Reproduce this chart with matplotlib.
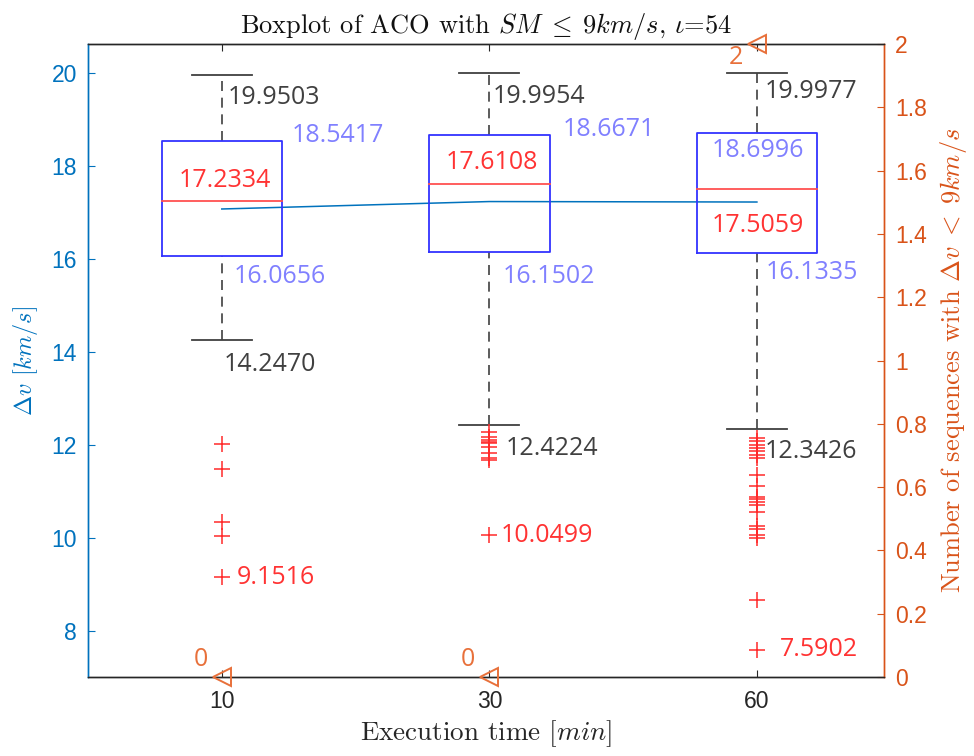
import matplotlib
matplotlib.use("Agg")
import matplotlib.pyplot as plt
import numpy as np

plt.rcParams['mathtext.fontset'] = 'cm'

# ---------------- data ----------------
exec_times = ["10", "30", "60"]
q1 = [16.0656, 16.1502, 16.1335]
medians = [17.2334, 17.6108, 17.5059]
q3 = [18.5417, 18.6671, 18.6996]
whisk_hi = [19.9503, 19.9954, 19.9977]
whisk_lo = [14.2470, 12.4224, 12.3426]
means = [17.07, 17.23, 17.22]
outliers_10 = [12.02, 11.48, 10.34, 10.04, 9.1516]
outliers_30 = [12.28, 12.17, 12.11, 12.06, 12.04, 11.94, 11.83, 11.72, 11.66, 10.0499]
outliers_60 = [12.15, 12.07, 12.00, 11.93, 11.86, 11.78, 11.71, 11.35, 11.10, 10.88,
               10.82, 10.76, 10.71, 10.55, 10.24, 10.19, 10.06, 9.99, 8.65, 7.5902]
min_outlier = [9.1516, 10.0499, 7.5902]
counts = [0, 0, 2]
right_ticks = [0, 0.2, 0.4, 0.6, 0.8, 1, 1.2, 1.4, 1.6, 1.8, 2]
right_ticklabels = ["0", "0.2", "0.4", "0.6", "0.8", "1", "1.2", "1.4", "1.6", "1.8", "2"]
left_ticks = [8, 10, 12, 14, 16, 18, 20]

# ---------------- style ----------------
BLUE_AX = '#0072bd'
ORANGE = '#d95319'
GRAY = '#404040'
LAV = '#8080ff'
RED = '#ff3333'
TXT_FONT = 'Open Sans'
TXT_SIZE = 18
TICK_SIZE = 16.5

fig = plt.figure(figsize=(9.74, 7.56), dpi=100)
ax = fig.add_axes([88/974, 1-677/756, (884-88)/974, (677-44)/756])
ax2 = ax.twinx()

positions = np.arange(1, len(exec_times) + 1)
outliers = [outliers_10, outliers_30, outliers_60]

bw = 0.45
cw = 0.225
for i, p in enumerate(positions):
    # box
    ax.plot([p-bw/2, p+bw/2, p+bw/2, p-bw/2, p-bw/2],
            [q1[i], q1[i], q3[i], q3[i], q1[i]], color='#3333ff', lw=1.3, zorder=3)
    # median
    ax.plot([p-bw/2, p+bw/2], [medians[i], medians[i]], color='#ff5050', lw=1.3, zorder=3)
    # whiskers
    ax.plot([p, p], [q3[i], whisk_hi[i]], color=GRAY, lw=1.2, ls=(0, (6, 4)), zorder=2)
    ax.plot([p, p], [whisk_lo[i], q1[i]], color=GRAY, lw=1.2, ls=(0, (6, 4)), zorder=2)
    ax.plot([p-cw/2, p+cw/2], [whisk_hi[i], whisk_hi[i]], color=GRAY, lw=1.3, zorder=2)
    ax.plot([p-cw/2, p+cw/2], [whisk_lo[i], whisk_lo[i]], color=GRAY, lw=1.3, zorder=2)
    # outliers
    ax.plot([p]*len(outliers[i]), outliers[i], ls='none', marker='+', ms=11, mew=1.1,
            color='#ff2a2a', zorder=3)

# mean line
ax.plot(positions, means, color=BLUE_AX, lw=1.1, zorder=2)

# annotations (offsets in pixels)
def lab(x, y, s, color, dx, dy, ha='left', axis=ax):
    axis.annotate(s, xy=(x, y), xytext=(dx, dy), textcoords='offset pixels',
                  ha=ha, va='center', color=color, fontsize=TXT_SIZE,
                  fontfamily=TXT_FONT, zorder=5, annotation_clip=False)

hi_off = [(6, -22), (3, -23), (8, -19)]
q3_off = [(70, 5, 'left'), (73, 5, 'left'), (1, -17, 'center')]
med_off = [(3, 21), (3, 21), (1, -37)]
q1_off = [(12, -21), (13, -25), (9, -20)]
lo_off = [(2, -24), (16, -24), (8, -23)]
mo_off = [(15, 0), (11, 0), (23, 0)]

for i, p in enumerate(positions):
    lab(p, whisk_hi[i], f"{whisk_hi[i]:.4f}", GRAY, *hi_off[i])
    lab(p, q3[i], f"{q3[i]:.4f}", LAV, q3_off[i][0], q3_off[i][1], q3_off[i][2])
    lab(p, medians[i], f"{medians[i]:.4f}", RED, med_off[i][0], med_off[i][1], 'center')
    lab(p, q1[i], f"{q1[i]:.4f}", LAV, *q1_off[i])
    lab(p, whisk_lo[i], f"{whisk_lo[i]:.4f}", GRAY, *lo_off[i])
    lab(p, min_outlier[i], f"{min_outlier[i]:.4f}", RED, *mo_off[i])

# counts on right axis
ax2.plot(positions, counts, ls='none', marker='<', ms=13, mfc='none', mec='#e8703a',
         mew=1.4, clip_on=False, zorder=6)
for i, p in enumerate(positions):
    dy = 17 if counts[i] == 0 else -14
    lab(p, counts[i], str(counts[i]), '#e8703a', -21, dy, 'center', axis=ax2)

# axes formatting
ax.set_xlim(0.5, 3.475)
ax.set_ylim(7.0, 20.62)
ax2.set_ylim(0, 2)
ax.set_xticks(positions)
ax.set_xticklabels(exec_times)
ax.set_yticks(left_ticks)
ax2.set_yticks(right_ticks)
ax2.set_yticklabels(right_ticklabels)

for t in ax.get_yticklabels():
    t.set_fontfamily('Liberation Sans'); t.set_fontsize(TICK_SIZE); t.set_color(BLUE_AX)
for t in ax2.get_yticklabels():
    t.set_fontfamily('Liberation Sans'); t.set_fontsize(TICK_SIZE); t.set_color(ORANGE)
for t in ax.get_xticklabels():
    t.set_fontfamily('Liberation Sans'); t.set_fontsize(TICK_SIZE); t.set_color('#262626')

ax.tick_params(axis='x', direction='in', length=5, top=True, color='#262626', pad=9)
ax.tick_params(axis='y', direction='in', length=5, color=BLUE_AX, pad=8)
ax2.tick_params(axis='y', direction='in', length=5, color=ORANGE, pad=8)

for a in (ax, ax2):
    a.spines['top'].set_color('#262626')
    a.spines['bottom'].set_color('#262626')
    a.spines['left'].set_color(BLUE_AX)
    a.spines['right'].set_color(ORANGE)
    for s in a.spines.values():
        s.set_linewidth(1.0)

ax.set_title(r"Boxplot of ACO with $SM\;\leq\;9km/s$, $\iota$=54", fontfamily='cmr10',
             fontsize=19, color='#111111', pad=8)
ax.set_xlabel(r"Execution time $[min]$", fontfamily='cmr10', fontsize=19.5,
              color='#262626', labelpad=4)
ax.set_ylabel(r"$\Delta v$ $[km/s]$", fontfamily='cmr10', fontsize=17.5, color=BLUE_AX,
              labelpad=8)
ax2.set_ylabel(r"Number of sequences with $\Delta v\;<\;9km/s$", fontfamily='cmr10',
               fontsize=19, color=ORANGE, labelpad=8)

fig.savefig("out.png", dpi=100)
